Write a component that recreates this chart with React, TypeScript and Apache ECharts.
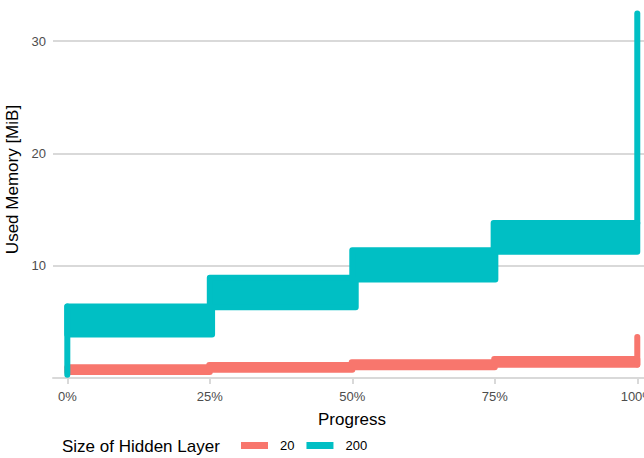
import React, { useEffect, useRef } from "react";
import * as echarts from "echarts";

// Progress (%) ranges and memory (MiB) ranges for each band of the traces
const segStart20 = [0, 24.9, 49.9, 74.9, 100];
const segEnd20 = [25, 50, 75, 100, 100];
const low20 = [0.54, 0.74, 0.96, 1.19, 1.2];
const high20 = [0.95, 1.16, 1.4, 1.7, 3.65];

const segStart200 = [0, 0, 25, 50, 74.8, 100];
const segEnd200 = [0, 25.4, 50.6, 75.1, 100, 100];
const low200 = [0.3, 3.87, 6.3, 8.78, 11.25, 13.81];
const high200 = [6.37, 6.37, 8.93, 11.37, 13.81, 32.45];

const xTicks = [0, 25, 50, 75, 100];
const yTicks = [10, 20, 30];
const seriesNames = ["20", "200"];
const legendTitle = "Size of Hidden Layer";
const colors = ["#F8766D", "#00BFC4"];

const FONT = "'Liberation Sans', Arial, sans-serif";

function makeData(s: number[], e: number[], lo: number[], hi: number[]) {
  return s.map((v, i) => [v, e[i], lo[i], hi[i]]);
}

function bandSeries(name: string, color: string, data: number[][]) {
  return {
    type: "custom",
    name,
    itemStyle: { color },
    encode: { x: [0, 1], y: [2, 3] },
    data,
    renderItem: (params: any, api: any) => {
      const x0 = api.value(0);
      const x1 = api.value(1);
      const lo = api.value(2);
      const hi = api.value(3);
      const p0 = api.coord([x0, hi]);
      const p1 = api.coord([x1, lo]);
      return {
        type: "rect",
        shape: {
          x: p0[0],
          y: p0[1],
          width: Math.max(p1[0] - p0[0], 0.01),
          height: Math.max(p1[1] - p0[1], 0.01),
        },
        style: { fill: color, stroke: color, lineWidth: 6, lineJoin: "round" },
      };
    },
  };
}

export default function App() {
  const ref = useRef<HTMLDivElement>(null);
  useEffect(() => {
    if (!ref.current) return;
    const chart = echarts.init(ref.current, null, { renderer: "svg" });
    const option: any = {
      animation: false,
      textStyle: { fontFamily: FONT },
      grid: {
        left: 53,
        right: 0,
        top: -3,
        bottom: 80,
        containLabel: false,
        outerBoundsMode: "none",
      },
      xAxis: {
        type: "value",
        min: -2.51,
        max: 101.18,
        name: "Progress",
        nameLocation: "middle",
        nameGap: 33,
        nameTextStyle: { fontSize: 17, color: "#000", fontFamily: FONT, padding: [0, 0, 0, 7] },
        axisLine: { show: true, lineStyle: { color: "#D9D9D9", width: 2 } },
        axisTick: {
          show: true,
          customValues: xTicks,
          length: 6,
          lineStyle: { color: "#D9D9D9", width: 2 },
        },
        axisLabel: {
          customValues: xTicks,
          formatter: (v: number) => `${v}%`,
          fontSize: 13,
          color: "#4D4D4D",
          margin: 12,
          fontFamily: FONT,
          hideOverlap: false,
        },
        splitLine: { show: false },
      },
      yAxis: {
        type: "value",
        min: 0,
        max: 33.93,
        interval: 10,
        name: "Used Memory [MiB]",
        nameLocation: "middle",
        nameGap: 30,
        nameTextStyle: { fontSize: 17, color: "#000", fontFamily: FONT, padding: [0, 0, 0, 16] },
        axisLine: { show: false },
        axisTick: { show: false },
        axisLabel: {
          fontSize: 13,
          color: "#4D4D4D",
          margin: 7,
          fontFamily: FONT,
          formatter: (v: number) => (yTicks.indexOf(v) >= 0 ? String(v) : ""),
        },
        splitLine: { show: true, lineStyle: { color: "#D9D9D9", width: 2 } },
      },
      legend: {
        left: 236,
        top: 434,
        icon: "rect",
        itemWidth: 27,
        itemHeight: 7,
        itemGap: 12,
        data: seriesNames.map((n) => ({ name: n, icon: "rect" })),
        textStyle: { fontSize: 13, color: "#000", fontFamily: FONT, padding: [0, 0, 0, 7] },
      },
      graphic: [
        {
          type: "text",
          left: 62,
          top: 438,
          style: { text: legendTitle, fontSize: 17, fill: "#000", font: `17px ${FONT}` },
        },
      ],
      series: [
        bandSeries(seriesNames[0], colors[0], makeData(segStart20, segEnd20, low20, high20)),
        bandSeries(seriesNames[1], colors[1], makeData(segStart200, segEnd200, low200, high200)),
      ],
    };
    chart.setOption(option);
    return () => chart.dispose();
  }, []);
  return (
    <div
      ref={ref}
      style={{ position: "fixed", left: 0, top: 0, width: 644, height: 458, background: "#fff" }}
    />
  );
}
